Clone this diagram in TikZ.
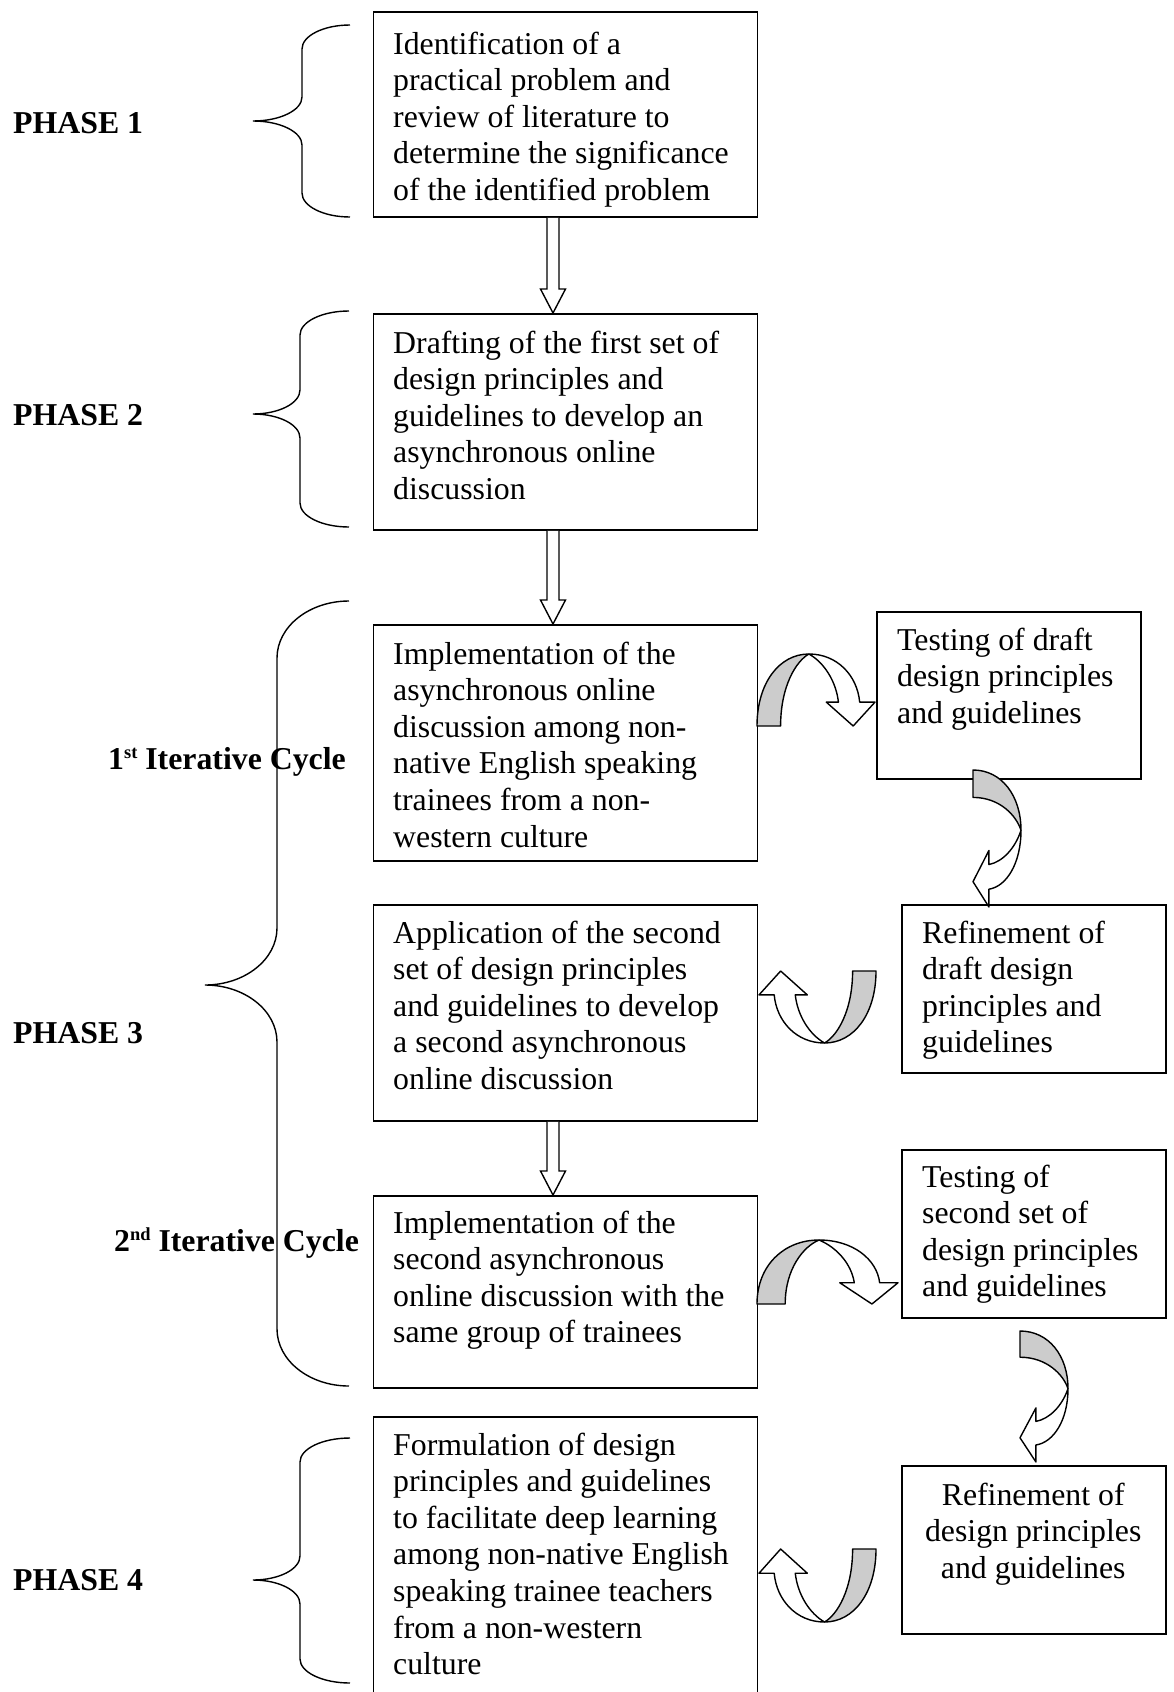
\documentclass[tikz,border=0pt]{standalone}
\usepackage{fontspec}
\setmainfont{Liberation Serif}
\usetikzlibrary{calc}
\definecolor{ribbongray}{RGB}{204,204,204}
\tikzset{
  box/.style={draw, line width=1.8pt, rectangle, inner sep=0pt, anchor=north west},
  boxtext/.style={anchor=base west, inner sep=0pt, font=\fontsize{31.8}{36.6}\selectfont},
  phaselabel/.style={anchor=base west, inner sep=0pt, font=\fontsize{31.8}{36.6}\selectfont\bfseries},
  bracestyle/.style={line width=1.4pt},
  blockarrow/.style={draw, fill=white, line width=1.4pt, line join=miter},
  ribbonline/.style={line width=1.4pt, line join=round},
}
% left-aligned lines of a box, first baseline at the node's base
\newcommand\boxlines[2]{\parbox[t]{#1}{\raggedright #2}}
% ordinal suffix raised above the baseline
\newcommand\ordsup[1]{\raisebox{0.34em}{\fontsize{18.4}{18.4}\selectfont #1}}
% hollow block arrow pointing down from one box to the next; #3 = axis x
\newcommand\blockdown[3]{%
  \draw[blockarrow] let \p1=(#1.south), \p2=(#2.north) in
    ({#3-6pt},\y1) -- ({#3-6pt},{\y2+24pt}) -- ({#3-12.5pt},{\y2+24pt}) --
    (#3,\y2) -- ({#3+12.5pt},{\y2+24pt}) -- ({#3+6pt},{\y2+24pt}) -- ({#3+6pt},\y1);
}
% curved ribbon arrow in a unit box (tail lower left, head lower right)
\newcommand\ribbonshape{%
  \filldraw[ribbonline, fill=ribbongray] (0,1) .. controls (0,0.4) and (0.19,0) .. (0.44,0)
    .. controls (0.33,0.1) and (0.2,0.45) .. (0.2,1) -- cycle;
  \filldraw[ribbonline, fill=white] (0.44,0) .. controls (0.68,0) and (0.85,0.3) .. (0.87,0.668)
    -- (1,0.668) -- (0.815,1) -- (0.587,0.668) -- (0.69,0.668)
    .. controls (0.67,0.38) and (0.57,0.12) .. (0.44,0) -- cycle;
}
% curly brace: end x, stem x, tip x, top y, tip y, bottom y, arc size
\newcommand\phasebrace[7]{%
  \draw[bracestyle] (#1,#4) .. controls ({#1-0.552*(#1-#2)},#4) and (#2,{#4+0.448*#7}) .. (#2,{#4+#7})
    -- (#2,{#5-#7}) .. controls (#2,{#5-0.448*#7}) and ({#3+0.552*(#2-#3)},#5) .. (#3,#5)
    .. controls ({#3+0.552*(#2-#3)},#5) and (#2,{#5+0.448*#7}) .. (#2,{#5+#7})
    -- (#2,{#6-#7}) .. controls (#2,{#6-0.448*#7}) and ({#1-0.552*(#1-#2)},#6) .. (#1,#6);
}
\begin{document}
\begin{tikzpicture}[x=1pt, y=-1pt]
\useasboundingbox (0,0) rectangle (1174,1692);
\fill[white] (0,0) rectangle (1174,1692);

% main column
\node[box, minimum width=384pt, minimum height=205pt] (b1) at (372.5,11) {};
\node[box, minimum width=384pt, minimum height=216pt] (b2) at (372.5,313) {};
\node[box, minimum width=384pt, minimum height=236pt] (b3) at (372.5,624) {};
\node[box, minimum width=384pt, minimum height=216pt] (b4) at (372.5,904) {};
\node[box, minimum width=384pt, minimum height=192pt] (b5) at (372.5,1195) {};
\node[box, minimum width=384pt, minimum height=280pt] (b6) at (372.5,1416) {};
% side column
\node[box, minimum width=264pt, minimum height=167pt] (t1) at (876,611) {};
\node[box, minimum width=264pt, minimum height=168pt] (r1) at (901,904) {};
\node[box, minimum width=264pt, minimum height=168pt] (t2) at (901,1149) {};
\node[box, minimum width=264pt, minimum height=168pt] (r2) at (901,1465) {};

% box texts
\node[boxtext] (b1t) at (393,54) {\boxlines{360pt}{Identification of a\\practical problem and\\review of literature to\\determine the significance\\of the identified problem}};
\node[boxtext] (b2t) at (393,353) {\boxlines{360pt}{Drafting of the first set of\\design principles and\\guidelines to develop an\\asynchronous online\\discussion}};
\node[boxtext] (b3t) at (393,664) {\boxlines{360pt}{Implementation of the\\asynchronous online\\discussion among non-\\native English speaking\\trainees from a non-\\western culture}};
\node[boxtext] (b4t) at (393,943) {\boxlines{360pt}{Application of the second\\set of design principles\\and guidelines to develop\\a second asynchronous\\online discussion}};
\node[boxtext] (b5t) at (393,1233) {\boxlines{360pt}{Implementation of the\\second asynchronous\\online discussion with the\\same group of trainees}};
\node[boxtext] (b6t) at (393,1455) {\boxlines{360pt}{Formulation of design\\principles and guidelines\\to facilitate deep learning\\among non-native English\\speaking trainee teachers\\from a non-western\\culture}};
\node[boxtext] (t1t) at (897,650) {\boxlines{240pt}{Testing of draft\\design principles\\and guidelines}};
\node[boxtext] (r1t) at (922,943) {\boxlines{240pt}{Refinement of\\draft design\\principles and\\guidelines}};
\node[boxtext] (t2t) at (922,1187) {\boxlines{240pt}{Testing of\\second set of\\design principles\\and guidelines}};
\node[boxtext] (r2t) at (901,1505) {\parbox[t]{264pt}{\centering Refinement of\\design principles\\and guidelines}};

% straight block arrows
\blockdown{b1}{b2}{553pt}
\blockdown{b2}{b3}{553pt}
\blockdown{b4}{b5}{553pt}

% curved ribbon arrows
\begin{scope}[shift={(757,654)}, xscale=118, yscale=72] \ribbonshape \end{scope}
\begin{scope}[shift={(1021,770)}, xscale=48, yscale=137, rotate=-90] \ribbonshape \end{scope}
\begin{scope}[shift={(876,1043)}, xscale=-117, yscale=-72] \ribbonshape \end{scope}
\begin{scope}[shift={(757,1240)}, xscale=141, yscale=64] \ribbonshape \end{scope}
\begin{scope}[shift={(1068,1331)}, xscale=48, yscale=131, rotate=-90] \ribbonshape \end{scope}
\begin{scope}[shift={(876,1622)}, xscale=-117, yscale=-73] \ribbonshape \end{scope}

% braces
\phasebrace{350}{302}{253}{25}{121}{217}{24}
\phasebrace{349}{300}{253}{311}{414}{527}{24}
\phasebrace{349}{277}{205}{601}{985}{1386}{57}
\phasebrace{350}{300}{253}{1438}{1580}{1683}{24}

% phase labels
\node[phaselabel] (p1) at (13,133) {PHASE 1};
\node[phaselabel] (p2) at (13,425) {PHASE 2};
\node[phaselabel] (p3) at (13,1043) {PHASE 3};
\node[phaselabel] (p4) at (13,1590) {PHASE 4};
\node[phaselabel] (c1) at (108,769) {1\ordsup{st} Iterative Cycle};
\node[phaselabel] (c2) at (114,1251) {2\ordsup{nd} Iterative Cycle};
\end{tikzpicture}
\end{document}
